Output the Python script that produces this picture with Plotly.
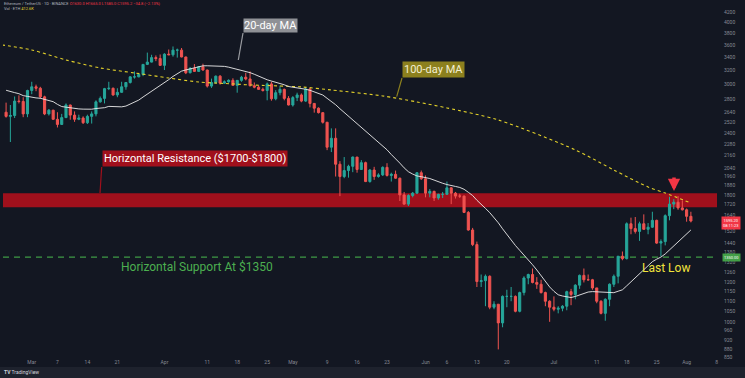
import numpy as np
import pandas as pd
import plotly.graph_objects as go

# ---------------- data (ETH daily) ----------------
start_date = "2022-02-23"
opens = [2640, 2590, 2600, 2780, 2775, 2620,
         2920, 2970, 2950, 2835, 2620, 2665, 2555, 2495, 2575, 2730, 2605, 2555, 2570, 2515, 2590, 2620,
         2770, 2815, 2945, 2950, 2860, 2895, 2970, 3030, 3110, 3110, 3145, 3295, 3330, 3400, 3385,
         3280, 3455, 3445, 3520, 3520, 3410, 3170, 3235, 3190, 3260, 3210, 2980, 3030, 3120, 3020,
         3040, 3060, 2990, 3060, 3105, 3080, 2985, 2965, 2935, 2920, 3010, 2810, 2890, 2935, 2815,
         2730, 2825, 2860, 2780, 2940, 2750, 2690, 2635, 2520, 2245, 2340, 2075, 1960, 2015, 2055,
         2145, 2025, 2090, 1915, 2020, 1960, 1975, 2045, 1970, 1980, 1945, 1800, 1725, 1795, 1815,
         1995, 1940, 1815, 1830, 1775, 1805, 1805, 1860, 1815, 1790, 1790, 1660, 1530, 1430, 1205,
         1210, 1235, 1070, 1085, 995, 1125, 1125, 1125, 1050, 1145, 1225, 1245, 1200, 1190, 1145,
         1100, 1070, 1060, 1065, 1075, 1150, 1135, 1185, 1240, 1215, 1215, 1170, 1100, 1040, 1110,
         1190, 1235, 1355, 1340, 1575, 1540, 1520, 1575, 1535, 1550, 1600, 1440, 1450, 1635, 1725,
         1740, 1695, 1680, 1630]
highs = [2760, 2730, 2840, 2855, 2830, 2930,
         3040, 3000, 2970, 2850, 2680, 2670, 2640, 2620, 2750, 2735, 2650, 2610, 2590, 2610, 2650,
         2790, 2840, 2955, 3040, 2960, 2950, 3040, 3035, 3120, 3190, 3160, 3300, 3480, 3445, 3435,
         3450, 3470, 3530, 3580, 3545, 3555, 3415, 3255, 3300, 3270, 3305, 3215, 3085, 3130, 3135,
         3060, 3075, 3090, 3060, 3125, 3170, 3190, 3030, 2990, 2960, 3030, 3040, 2925, 2985, 2945,
         2845, 2845, 2890, 2880, 2960, 2955, 2755, 2700, 2640, 2525, 2450, 2450, 2105, 2145, 2070,
         2150, 2145, 2115, 2100, 2030, 2050, 1990, 2055, 2085, 1995, 2015, 1950, 1825, 1805, 1825,
         2000, 2015, 1970, 1850, 1835, 1810, 1825, 1915, 1865, 1825, 1810, 1795, 1670, 1545, 1450,
         1245, 1245, 1240, 1100, 1085, 1130, 1160, 1175, 1130, 1150, 1235, 1250, 1280, 1230, 1215,
         1150, 1105, 1125, 1075, 1080, 1155, 1165, 1190, 1245, 1280, 1245, 1220, 1170, 1105, 1115,
         1195, 1245, 1355, 1385, 1585, 1620, 1625, 1590, 1645, 1580, 1665, 1605, 1465, 1645, 1785,
         1765, 1790, 1755, 1690, 1665]
lows = [2575, 2300, 2570, 2750, 2580, 2580,
        2870, 2910, 2810, 2605, 2600, 2550, 2460, 2490, 2570, 2550, 2525, 2545, 2500, 2500, 2505,
        2590, 2760, 2750, 2925, 2850, 2830, 2890, 2930, 3015, 3085, 3105, 3120, 3285, 3325, 3345,
        3270, 3210, 3440, 3415, 3400, 3405, 3150, 3160, 3185, 3185, 3200, 2960, 2955, 3010, 3000,
        3015, 3025, 2985, 2890, 3040, 3060, 2975, 2950, 2930, 2905, 2790, 2785, 2790, 2855, 2790,
        2725, 2710, 2780, 2765, 2770, 2700, 2635, 2625, 2505, 2215, 2195, 1960, 1790, 1945, 1950,
        2000, 1995, 2020, 1910, 1905, 1930, 1950, 1965, 1960, 1915, 1940, 1750, 1720, 1710, 1780,
        1810, 1930, 1780, 1780, 1750, 1760, 1775, 1800, 1725, 1770, 1775, 1655, 1525, 1420, 1175,
        1175, 1075, 1060, 1060, 880, 975, 1070, 1100, 1045, 1045, 1130, 1190, 1195, 1165, 1140,
        1075, 1000, 1050, 1040, 1050, 1055, 1080, 1110, 1165, 1200, 1210, 1160, 1090, 1035, 1005,
        1075, 1175, 1195, 1330, 1335, 1500, 1505, 1455, 1530, 1500, 1545, 1435, 1355, 1425, 1600,
        1685, 1680, 1675, 1590, 1585]
closes = [2590, 2600, 2780, 2775, 2620, 2920,
          2970, 2950, 2835, 2620, 2665, 2555, 2495, 2575, 2730, 2605, 2555, 2570, 2515, 2590, 2620,
          2770, 2815, 2945, 2950, 2860, 2895, 2970, 3030, 3110, 3110, 3145, 3295, 3330, 3400, 3385,
          3280, 3455, 3445, 3520, 3520, 3410, 3170, 3235, 3190, 3260, 3210, 2980, 3030, 3120, 3020,
          3040, 3060, 2990, 3060, 3105, 3080, 2985, 2965, 2935, 2920, 3010, 2810, 2890, 2935, 2815,
          2730, 2825, 2860, 2780, 2940, 2750, 2690, 2635, 2520, 2245, 2340, 2075, 1960, 2015, 2055,
          2145, 2025, 2090, 1915, 2020, 1960, 1975, 2045, 1970, 1980, 1945, 1800, 1725, 1795, 1815,
          1995, 1940, 1815, 1830, 1775, 1805, 1805, 1860, 1815, 1790, 1790, 1660, 1530, 1430, 1205,
          1210, 1235, 1070, 1085, 995, 1125, 1125, 1125, 1050, 1145, 1225, 1245, 1200, 1190, 1145,
          1100, 1070, 1060, 1065, 1075, 1150, 1135, 1185, 1240, 1215, 1215, 1170, 1100, 1040, 1110,
          1190, 1235, 1355, 1340, 1575, 1540, 1520, 1575, 1535, 1550, 1600, 1440, 1450, 1635, 1725,
          1740, 1695, 1680, 1630, 1595]
# closes of the 19 days before the first candle (for the 20-day average)
warmup_closes = [2990, 3020, 3060, 3140, 3120, 3240, 3080, 2925, 2915, 2880,
                 2930, 3180, 3125, 2885, 2785, 2760, 2620, 2570, 2640]

# 100-day moving average
ma100_dates = ["2022-02-22", "2022-03-01", "2022-03-09", "2022-03-17", "2022-03-25",
               "2022-04-02", "2022-04-09", "2022-04-17", "2022-04-21", "2022-05-03",
               "2022-05-10", "2022-05-22", "2022-05-30", "2022-06-06", "2022-06-18",
               "2022-07-06", "2022-07-15", "2022-07-23", "2022-07-27", "2022-08-02"]
ma100_values = [3606, 3523, 3364, 3241, 3167, 3094, 3037, 3010, 2996, 2968,
                2927, 2847, 2769, 2693, 2547, 2217, 2020, 1867, 1816, 1734]

resistance_low, resistance_high = 1700, 1815
support_level = 1350

xtick_dates = ["2022-03-01", "2022-03-07", "2022-03-14", "2022-03-21", "2022-04-01",
               "2022-04-11", "2022-04-18", "2022-04-25", "2022-05-01", "2022-05-09",
               "2022-05-16", "2022-05-23", "2022-06-01", "2022-06-06", "2022-06-13",
               "2022-06-20", "2022-07-01", "2022-07-11", "2022-07-18", "2022-07-25",
               "2022-08-01", "2022-08-08"]
xtick_labels = ["Mar", "7", "14", "21", "Apr", "11", "18", "25", "May", "9", "16", "23",
                "Jun", "6", "13", "20", "Jul", "11", "18", "25", "Aug", "8"]
ytick_values = [4400, 4200, 4000, 3800, 3600, 3400, 3200, 3000, 2800, 2640, 2520, 2400,
                2280, 2160, 2040, 1960, 1880, 1800, 1720, 1640, 1520, 1440, 1380, 1320,
                1260, 1200, 1150, 1100, 1050, 1000, 960, 920, 880, 850]

# ---------------- figure ----------------
dates = pd.date_range(start_date, periods=len(closes), freq="D")
all_closes = pd.Series(warmup_closes + closes, dtype=float)
ma20 = all_closes.rolling(20).mean().iloc[len(warmup_closes):].values

W, H = 745, 378
ML, MR, MT, MB = 3, 28, 0, 20
PW, PH = W - ML - MR, H - MT - MB


def px(x):
    return (x - ML) / PW


def py(y):
    return (MT + PH - y) / PH


BG = "#131722"
UP, DOWN = "#26a69a", "#ef5350"
RES = "#a0101c"

fig = go.Figure()
fig.add_trace(go.Candlestick(
    x=dates, open=opens, high=highs, low=lows, close=closes,
    increasing=dict(line=dict(color=UP, width=1), fillcolor=UP),
    decreasing=dict(line=dict(color=DOWN, width=1), fillcolor=DOWN),
    whiskerwidth=0, showlegend=False, hoverinfo="skip"))
fig.add_trace(go.Scatter(x=pd.to_datetime(ma100_dates), y=ma100_values, mode="lines",
                         line=dict(color="#e3d12a", width=1.1, dash="dot", shape="spline", smoothing=0.8),
                         showlegend=False, hoverinfo="skip"))
fig.add_trace(go.Scatter(x=dates, y=ma20, mode="lines",
                         line=dict(color="rgba(235,235,235,0.9)", width=1),
                         showlegend=False, hoverinfo="skip"))

shapes = [
    dict(type="rect", xref="paper", yref="y", x0=0, x1=1, y0=resistance_low, y1=resistance_high,
         fillcolor=RES, line=dict(width=0), layer="below"),
    dict(type="line", xref="paper", yref="y", x0=0, x1=1, y0=support_level, y1=support_level,
         line=dict(color="#3f9a45", width=1.3, dash="6px,5px"), layer="below"),
    # callout pointers
    dict(type="line", xref="paper", yref="paper", x0=px(101.7), y0=py(167), x1=px(100), y1=py(193),
         line=dict(color=RES, width=1.2)),
    dict(type="line", xref="paper", yref="paper", x0=px(243), y0=py(33), x1=px(238.3), y1=py(60),
         line=dict(color="#9a9ca1", width=1.2)),
    dict(type="line", xref="paper", yref="paper", x0=px(402), y0=py(78), x1=px(396.7), y1=py(96.7),
         line=dict(color="#8c801e", width=1.2)),
    # footer bar
    dict(type="rect", xref="paper", yref="paper", x0=px(0), x1=px(745), y0=py(367), y1=py(378),
         fillcolor="#1e222d", line=dict(width=0)),
]

annotations = [
    dict(text="Horizontal Resistance ($1700-$1800)", xref="paper", yref="paper",
         x=px(102), y=py(167), xanchor="left", yanchor="bottom", showarrow=False,
         bgcolor=RES, borderpad=1, font=dict(family="Roboto", size=11, color="white")),
    dict(text="20-day MA", xref="paper", yref="paper", x=px(243), y=py(33),
         xanchor="left", yanchor="bottom", showarrow=False, bgcolor="#8f9196", borderpad=0,
         font=dict(family="Roboto", size=11, color="white")),
    dict(text="100-day MA", xref="paper", yref="paper", x=px(402), y=py(78),
         xanchor="left", yanchor="bottom", showarrow=False, bgcolor="#8c801e", borderpad=1,
         font=dict(family="Roboto", size=11, color="#f3efd2")),
    dict(text="Horizontal Support At $1350", xref="paper", yref="paper", x=px(196.5), y=py(267),
         xanchor="center", yanchor="middle", showarrow=False,
         font=dict(family="Roboto", size=12, color="#4caf50")),
    dict(text="Last Low", xref="paper", yref="paper", x=px(665.5), y=py(268),
         xanchor="center", yanchor="middle", showarrow=False,
         font=dict(family="Roboto", size=12, color="#f2e33c")),
    dict(text="", xref="paper", yref="paper", x=px(674), y=py(191), ax=0, ay=-15,
         showarrow=True, arrowhead=2, arrowsize=0.7, arrowwidth=3.5, arrowcolor="#f23645"),
    # header text
    dict(text='<span style="color:#b2b5be">Ethereum / TetherUS · 1D · BINANCE </span>'
              '<span style="color:#f23645">O1630.0 H1665.0 L1585.0 C1595.2 −34.8 (−2.13%)</span>',
         xref="paper", yref="paper", x=px(2), y=py(4), xanchor="left", yanchor="middle",
         showarrow=False, font=dict(family="Roboto", size=4)),
    dict(text='<span style="color:#b2b5be">Vol · ETH </span><span style="color:#e8d62a">412.6K</span>',
         xref="paper", yref="paper", x=px(2), y=py(8.5), xanchor="left", yanchor="middle",
         showarrow=False, font=dict(family="Roboto", size=4)),
    # price labels on the axis
    dict(text="1595.20<br>08:11:23", xref="paper", yref="paper", x=px(731), y=py(222.5),
         xanchor="center", yanchor="middle", showarrow=False, bgcolor="#f23645", borderpad=1,
         font=dict(family="Roboto", size=4, color="white")),
    dict(text="1350.00", xref="paper", yref="paper", x=px(731), y=py(257),
         xanchor="center", yanchor="middle", showarrow=False, bgcolor="#43a047", borderpad=1,
         font=dict(family="Roboto", size=4, color="white")),
    # footer
    dict(text="<b>TV</b> TradingView", xref="paper", yref="paper", x=px(2), y=py(372.5),
         xanchor="left", yanchor="middle", showarrow=False,
         font=dict(family="Roboto", size=5, color="#d1d4dc")),
]

fig.update_layout(
    width=W, height=H, margin=dict(l=ML, r=MR, t=MT, b=MB),
    paper_bgcolor=BG, plot_bgcolor=BG,
    shapes=shapes, annotations=annotations, showlegend=False,
    xaxis=dict(type="date", range=["2022-02-22 06:44", "2022-08-08 02:24"],
               tickvals=xtick_dates, ticktext=xtick_labels, showgrid=False, zeroline=False,
               ticks="", tickfont=dict(family="Roboto", size=5, color="#868993"),
               rangeslider=dict(visible=False), fixedrange=True),
    yaxis=dict(type="log", range=[np.log10(845.7), np.log10(4440)], side="right",
               tickvals=ytick_values, ticktext=[str(v) for v in ytick_values],
               showgrid=False, zeroline=False, ticks="", ticklabelstandoff=6,
               tickfont=dict(family="Roboto", size=5, color="#868993"), fixedrange=True),
)

fig.write_html("out.html", config={"displayModeBar": False},
               post_script="document.body.style.margin='0';document.body.style.overflow='hidden';"
                           "document.body.style.background='#131722';")
